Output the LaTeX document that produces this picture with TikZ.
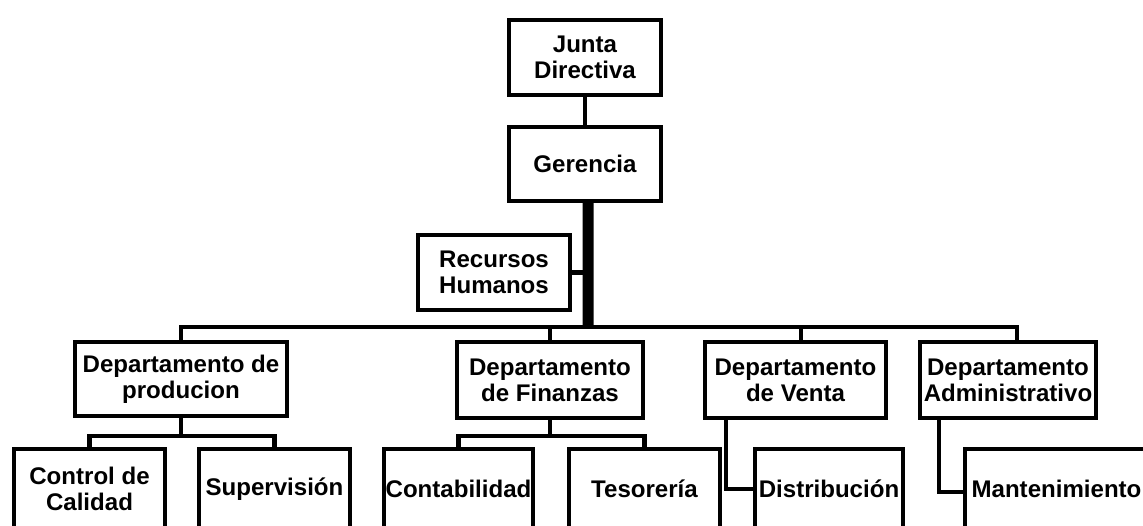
\documentclass[tikz,border=0pt]{standalone}
\usepackage{fontspec}
\setmainfont{Liberation Sans}
\begin{document}
\begin{tikzpicture}[x=0.02cm,y=0.02cm]
            \tikzstyle{every node}+=[inner sep=0pt]
            \tikzstyle{unit}=[draw=black, line width=0.09cm, align=center, minimum height=1.5cm, font=\fontsize{13.7}{14.8}\selectfont\bfseries]
            \tikzstyle{link}=[draw=black, line width=0.09cm, line join=miter]
            \tikzstyle{trunk}=[draw=black, line width=0.22cm]
            \useasboundingbox (0,0) rectangle (1143,-525);
            \clip (0,0) rectangle (1143,-525);
            % top
            \node [unit, minimum width=3.04cm] (junta) at (585,-57.5) {Junta\\Directiva};
            \node [unit, minimum width=3.04cm, minimum height=1.48cm] (geren) at (585,-164) {Gerencia};
            \node [unit, minimum width=3.04cm] (rrhh) at (494,-272.5) {Recursos\\Humanos};
            % departamentos
            \node [unit, minimum width=4.24cm, minimum height=1.48cm] (dprod) at (181,-379) {Departamento de\\producion};
            \node [unit, minimum width=3.72cm, minimum height=1.52cm] (dfin) at (550,-380) {Departamento\\de Finanzas};
            \node [unit, minimum width=3.62cm, minimum height=1.52cm] (dventa) at (795.5,-380) {Departamento\\de Venta};
            \node [unit, minimum width=3.52cm, minimum height=1.52cm] (dadmin) at (1008,-380) {Departamento\\Administrativo};
            % secciones
            \node [unit, minimum width=3.02cm, minimum height=1.6cm] (calidad) at (89.5,-489) {Control de\\Calidad};
            \node [unit, minimum width=3.02cm, minimum height=1.6cm] (superv) at (274.5,-489) {Supervisión};
            \node [unit, minimum width=2.98cm, minimum height=1.6cm] (conta) at (458.5,-489) {Contabilidad};
            \node [unit, minimum width=3.02cm, minimum height=1.6cm] (tesor) at (644.5,-489) {Tesorería};
            \node [unit, minimum width=2.96cm, minimum height=1.6cm] (distrib) at (829,-489) {Distribución};
            \node [unit, minimum width=3.66cm, minimum height=1.6cm] (mant) at (1056.5,-489) {Mantenimiento};
            % lineas
            \coordinate (bus) at (588,-327);
            \coordinate (pbus) at (181,-436);
            \coordinate (fbus) at (550,-436);
            \draw [link] (junta.south) -- (geren.north);
            \draw [trunk] ([xshift=0.06cm]geren.south) -- (bus);
            \draw [link] (rrhh.east) -- (rrhh.east -| bus);
            \draw [link] (dprod.north) |- (bus) -| ([xshift=0.18cm]dadmin.north);
            \draw [link] (dfin.north) -- (dfin.north |- bus);
            \draw [link] ([xshift=0.11cm]dventa.north) -- ([xshift=0.11cm]dventa.north |- bus);
            \draw [link] (dprod.south) -- (pbus);
            \draw [link] (calidad.north) |- (pbus) -| (superv.north);
            \draw [link] (dfin.south) -- (fbus);
            \draw [link] (conta.north) |- (fbus) -| (tesor.north);
            \draw [link] ([xshift=0.46cm]dventa.south west) |- (distrib.west);
            \draw [link] ([xshift=0.42cm]dadmin.south west) |- ([yshift=-0.06cm]mant.west);
\end{tikzpicture}
\end{document}
